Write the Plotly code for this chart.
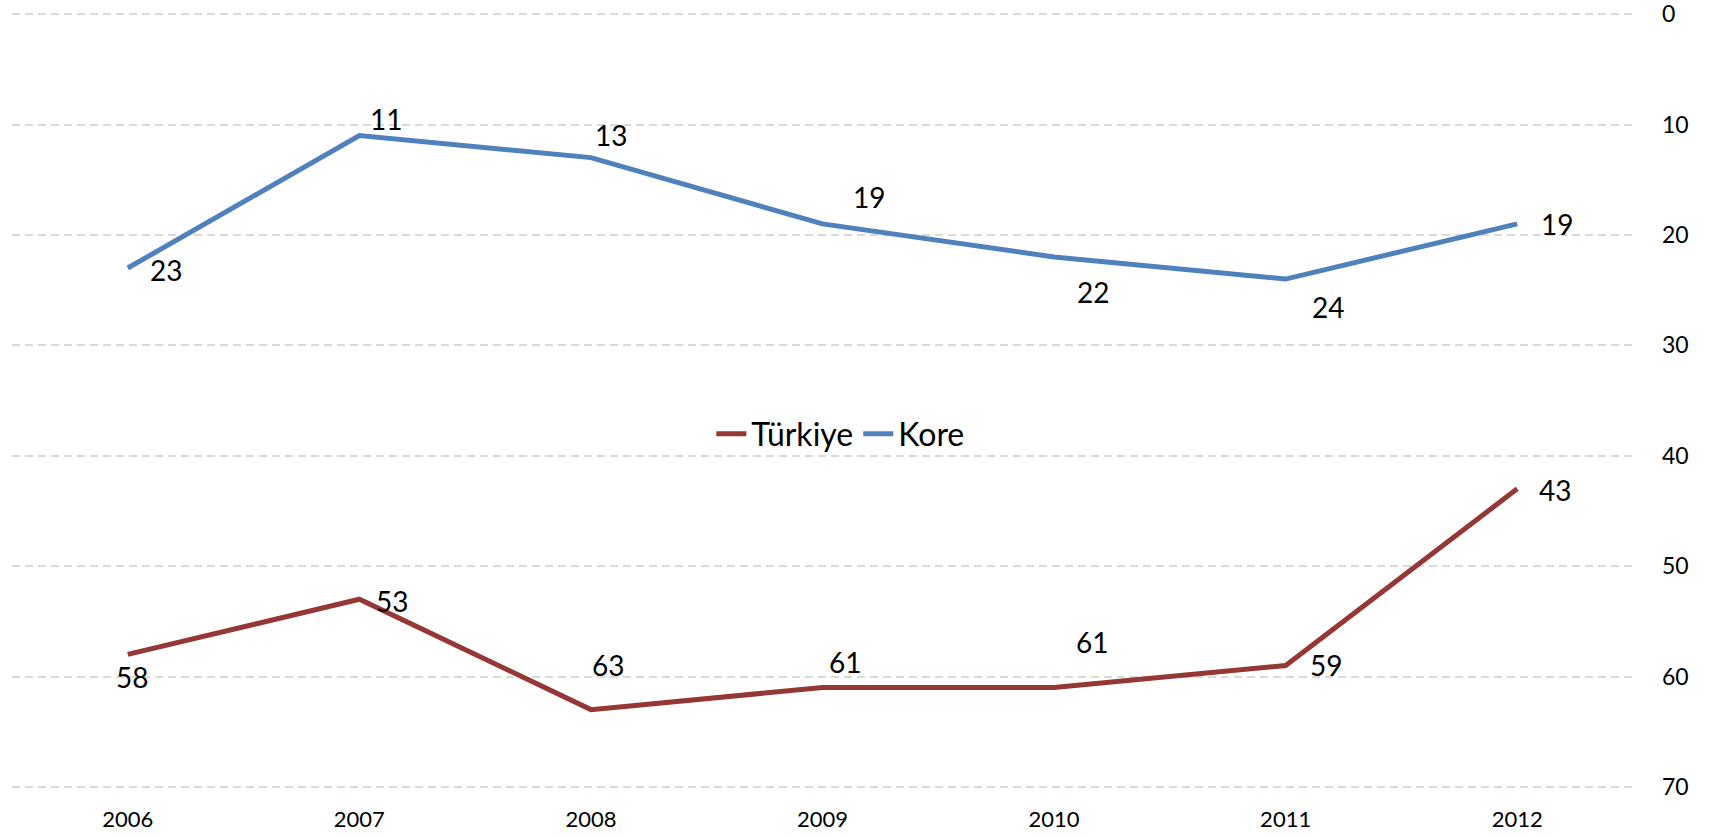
import plotly.graph_objects as go

years = ["2006", "2007", "2008", "2009", "2010", "2011", "2012"]
turkiye = [58, 53, 63, 61, 61, 59, 43]
kore = [23, 11, 13, 19, 22, 24, 19]
y_ticks = [0, 10, 20, 30, 40, 50, 60, 70]

# label offsets in pixels (dx right, dy down)
kore_off = [(38, 2), (27, -17), (20, -23), (46, -27), (39, 35), (42, 28), (40, 0)]
turk_off = [(4, 23), (33, 2), (17, -45), (22, -26), (38, -46), (40, 0), (38, 1)]

RED = "#953735"
BLUE = "#4F81BD"
FONT = "Lato"

fig = go.Figure()
fig.add_trace(go.Scatter(x=years, y=turkiye, mode="lines", name="Türkiye",
                         line=dict(color=RED, width=5)))
fig.add_trace(go.Scatter(x=years, y=kore, mode="lines", name="Kore",
                         line=dict(color=BLUE, width=5)))

for series, offs in ((kore, kore_off), (turkiye, turk_off)):
    for i, (yv, (dx, dy)) in enumerate(zip(series, offs)):
        fig.add_annotation(x=i, y=yv, xref="x", yref="y", text=str(yv),
                           showarrow=False, xshift=dx, yshift=-dy,
                           font=dict(family=FONT, size=28, color="#000000"))

fig.update_layout(
    width=1714, height=838,
    margin=dict(l=12, r=81, t=13, b=50, autoexpand=False),
    paper_bgcolor="white", plot_bgcolor="white",
    font=dict(family=FONT, color="#000000"),
    showlegend=True,
    legend=dict(orientation="h", x=0.511, xanchor="center", y=0.457, yanchor="middle",
                bgcolor="rgba(0,0,0,0)", font=dict(family=FONT, size=32, color="#000000"),
                itemwidth=30, traceorder="normal"),
    xaxis=dict(type="category", range=[-0.5, 6.5], showgrid=False, showline=False,
               zeroline=False, ticks="", ticklabelstandoff=16,
               tickfont=dict(family=FONT, size=22, color="#000000")),
    yaxis=dict(side="right", range=[70.1, -0.1], tickvals=y_ticks, ticktext=[str(v) for v in y_ticks],
               showgrid=True, gridcolor="#d9d9d9", gridwidth=1.5, griddash="8px,5px",
               zeroline=False, showline=False, ticks="", ticklabelstandoff=28,
               ticklabeloverflow="allow",
               tickfont=dict(family=FONT, size=23, color="#000000")),
)

fig.write_html("out.html", config={"displayModeBar": False},
               post_script="document.body.style.margin='0';")
